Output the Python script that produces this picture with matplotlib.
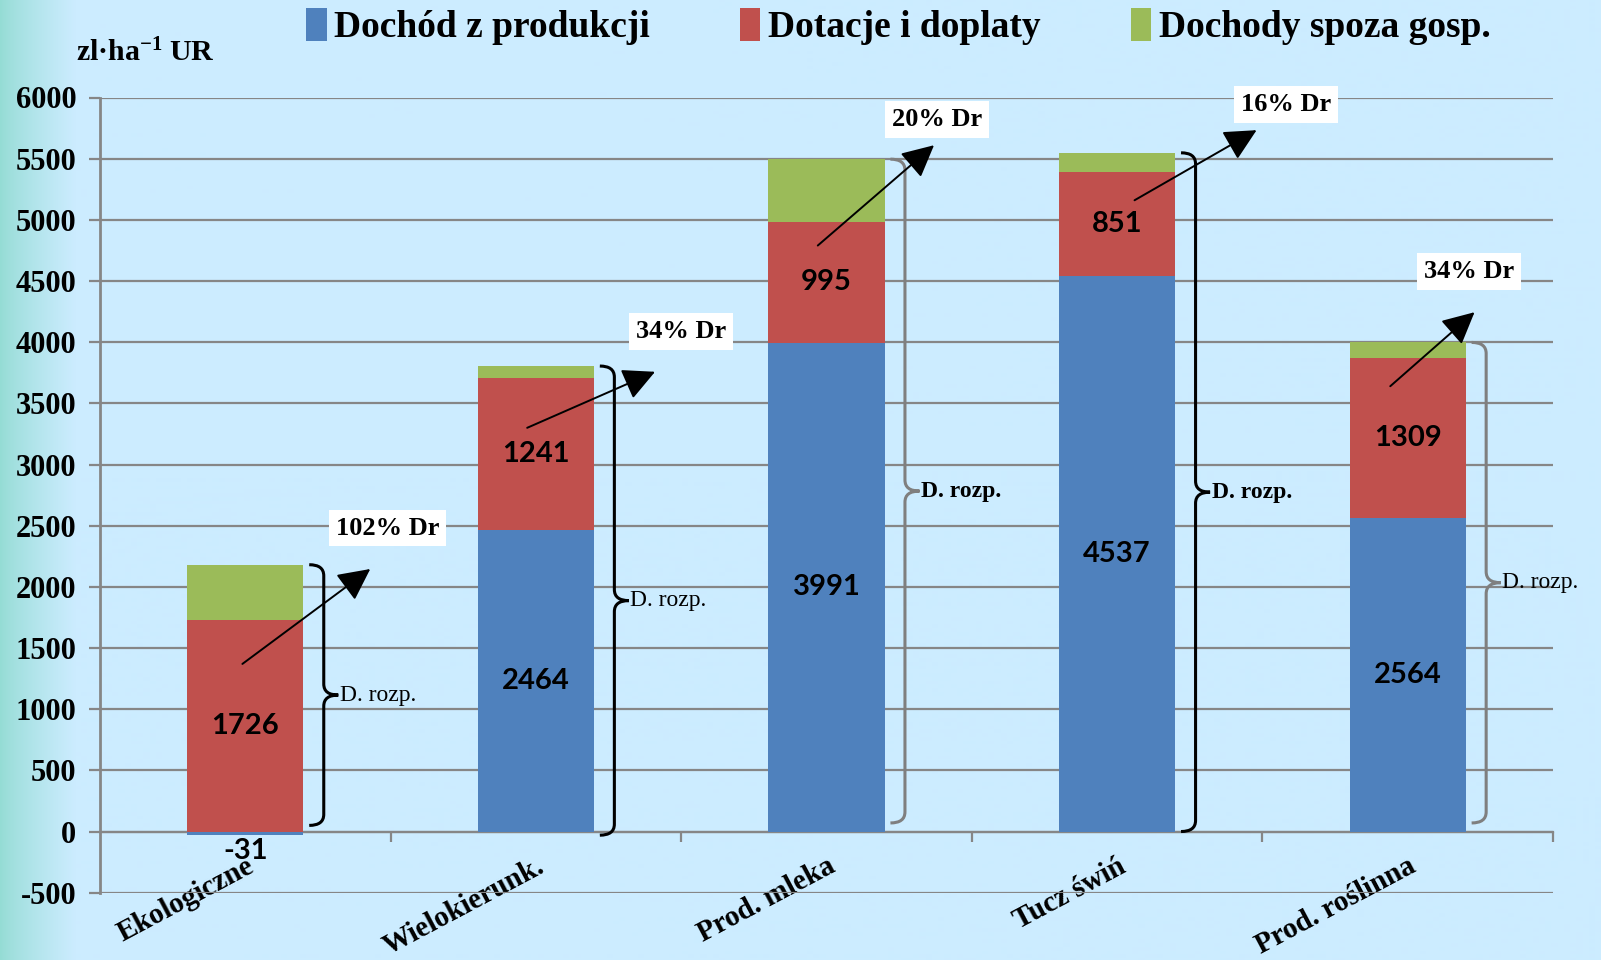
import matplotlib
matplotlib.use("Agg")
import matplotlib.pyplot as plt
import numpy as np
from matplotlib.path import Path
from matplotlib.patches import PathPatch, Patch

# dane (zl/ha UR)
categories = ["Ekologiczne", "Wielokierunk.", "Prod. mleka", "Tucz świń", "Prod. roślinna"]
dochod_prod = [-31, 2464, 3991, 4537, 2564]
dotacje = [1726, 1241, 995, 851, 1309]
spoza_gosp = [455, 100, 510, 160, 125]
udzial_dr = ["102% Dr", "34% Dr", "20% Dr", "16% Dr", "34% Dr"]
series_names = ["Dochód z produkcji", "Dotacje i doplaty", "Dochody spoza gosp."]

# uklad adnotacji (wspolrzedne osi)
label_xy = [(0.49, 2480), (1.50, 4090), (2.38, 5820), (3.58, 5940), (4.21, 4580)]
arrow_tail = [(-0.01, 1370), (0.97, 3300), (1.97, 4790), (3.06, 5160), (3.94, 3640)]
arrow_head = [(0.43, 2146), (1.41, 3758), (2.37, 5610), (3.48, 5733), (4.23, 4245)]
brace_bottom = [50, -30, 70, 0, 70]
brace_color = ["black", "black", "#7f7f7f", "black", "#7f7f7f"]
brace_bold = [False, False, True, True, False]

colors = ["#4F81BD", "#C0504D", "#9BBB59"]
SERIF = "Liberation Serif"
SANS = "Lato"
plt.rcParams["mathtext.default"] = "regular"
plt.rcParams["axes.unicode_minus"] = False

fig = plt.figure(figsize=(16.01, 9.6), dpi=100)

# tlo z gradientem po lewej
bg = fig.add_axes([0, 0, 1, 1], zorder=-10)
xs = np.arange(1601)
t = np.clip(xs / 75.0, 0, 1) ** 0.8
left = np.array([148, 220, 212]) / 255
main = np.array([204, 236, 255]) / 255
grad = left[None, :] * (1 - t[:, None]) + main[None, :] * t[:, None]
bg.imshow(grad[None, :, :], aspect="auto", extent=[0, 1, 0, 1])
bg.axis("off")

ax = fig.add_axes([100 / 1601, 1 - 892.7 / 960, 1453 / 1601, (892.7 - 97.5) / 960])
ax.patch.set_alpha(0)

x = np.arange(len(categories))
blue = np.array(dochod_prod)
red = np.array(dotacje)
green = np.array(spoza_gosp)
red_bottom = np.maximum(blue, 0)
green_bottom = red_bottom + red
totals = green_bottom + green

w = 0.4
ax.bar(x, blue, w, color=colors[0], zorder=3, label=series_names[0])
ax.bar(x, red, w, bottom=red_bottom, color=colors[1], zorder=3, label=series_names[1])
ax.bar(x, green, w, bottom=green_bottom, color=colors[2], zorder=3, label=series_names[2])

# etykiety wartosci
for i in range(len(x)):
    if blue[i] >= 0:
        ax.text(x[i], blue[i] / 2, str(blue[i]), ha="center", va="center",
                fontsize=21, fontweight="bold", family=SANS, zorder=5)
    else:
        ax.annotate(str(blue[i]), (x[i], blue[i]), xytext=(0, -2), textcoords="offset points",
                    ha="center", va="top", fontsize=21, fontweight="bold", family=SANS, zorder=5)
    ax.text(x[i], red_bottom[i] + red[i] / 2, str(red[i]), ha="center", va="center",
            fontsize=21, fontweight="bold", family=SANS, zorder=5)

# klamry "D. rozp."
bw, bh = 0.05, 90
for i in range(len(x)):
    bx = x[i] + 0.27
    top = totals[i]
    bot = brace_bottom[i]
    mid = (top + bot) / 2
    verts = [(bx - bw, top), (bx, top), (bx, top - bh),
             (bx, mid + bh),
             (bx, mid), (bx + bw, mid),
             (bx, mid), (bx, mid - bh),
             (bx, bot + bh),
             (bx, bot), (bx - bw, bot)]
    codes = [Path.MOVETO, Path.CURVE3, Path.CURVE3,
             Path.LINETO,
             Path.CURVE3, Path.CURVE3,
             Path.CURVE3, Path.CURVE3,
             Path.LINETO,
             Path.CURVE3, Path.CURVE3]
    ax.add_patch(PathPatch(Path(verts, codes), facecolor="none", edgecolor=brace_color[i],
                           lw=2.2, zorder=4))
    ax.text(bx + bw + 0.005, mid, "D. rozp.", ha="left", va="center", fontsize=17,
            family=SERIF, fontweight="bold" if brace_bold[i] else "normal", zorder=5)

# strzalki i udzial dochodow rozporzadzalnych
for i in range(len(x)):
    ax.annotate("", xy=arrow_head[i], xytext=arrow_tail[i],
                arrowprops=dict(arrowstyle="-|>,head_length=0.9,head_width=0.45", lw=1.4,
                                color="black", shrinkA=0, shrinkB=0, mutation_scale=22),
                zorder=6)
    ax.text(label_xy[i][0], label_xy[i][1], udzial_dr[i], ha="center", va="center",
            fontsize=19, fontweight="bold", family=SERIF, zorder=7,
            bbox=dict(facecolor="white", edgecolor="none", pad=5))

# osie
ax.set_xlim(-0.5, 4.5)
ax.set_ylim(-500, 6000)
ax.set_yticks(np.arange(-500, 6001, 500))
ax.yaxis.grid(True, color="#868686", lw=1.6, zorder=0)
ax.set_axisbelow(True)
for s in ["top", "right"]:
    ax.spines[s].set_visible(False)
ax.spines["left"].set_color("#868686")
ax.spines["left"].set_linewidth(2)
ax.spines["bottom"].set_position(("data", 0))
ax.spines["bottom"].set_color("#868686")
ax.spines["bottom"].set_linewidth(1.6)
ax.tick_params(axis="y", length=8, width=1.6, color="#868686", pad=9)
for lab in ax.get_yticklabels():
    lab.set_fontfamily(SERIF)
    lab.set_fontweight("bold")
    lab.set_fontsize(22)

ax.set_xticks(x)
ax.set_xticklabels(categories, rotation=28, ha="right", rotation_mode="anchor",
                   fontsize=21, fontweight="bold", family=SERIF)
ax.tick_params(axis="x", which="major", length=0, pad=15)
ax.set_xticks(np.arange(0.5, 4.6, 1), minor=True)
ax.tick_params(axis="x", which="minor", length=7, width=1.6, color="#868686", direction="out")

fig.text(76 / 1601, 1 - 53 / 960, "zl·ha$^{-1}$ UR", ha="left", va="center",
         fontsize=21.5, fontweight="bold", family=SERIF)

handles = [Patch(facecolor=c) for c in colors]
fig.legend(handles, series_names, loc="center", bbox_to_anchor=(0.561, 0.972), ncol=3,
           frameon=False, prop={"family": SERIF, "weight": "bold", "size": 27},
           handlelength=0.55, handleheight=0.95, handletextpad=0.2, columnspacing=2.4)

fig.savefig("out.png", dpi=100)
